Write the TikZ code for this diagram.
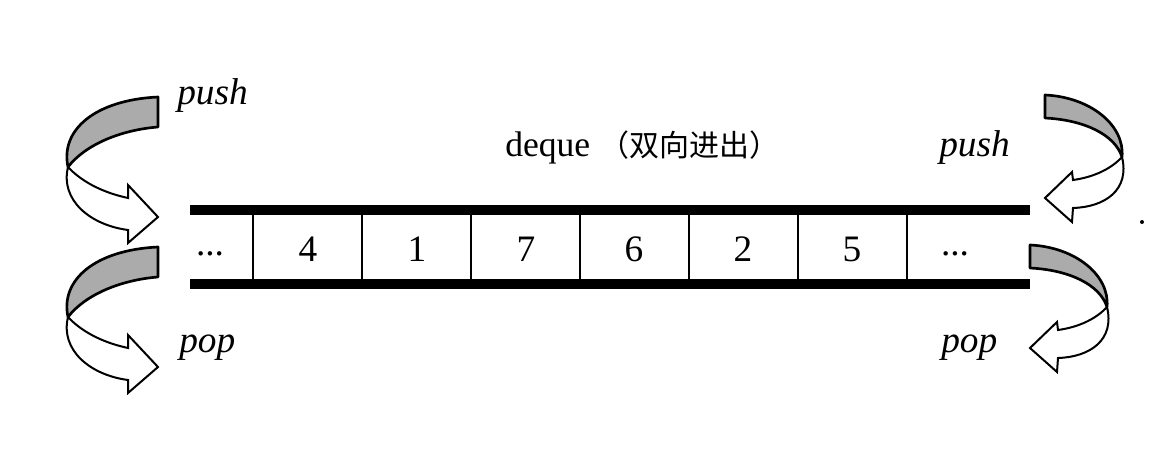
\documentclass[tikz,border=0pt]{standalone}
\usepackage{fontspec}
\setmainfont{Liberation Serif}
\newfontfamily\cjk{Noto Sans CJK SC}
\begin{document}
\begin{tikzpicture}[x=0.75pt,y=-0.75pt,
  tube/.style={line width=6.8pt},
  divider/.style={line width=1.3pt},
  band/.style={draw,line width=2pt,fill=black!33,line join=round},
  turn/.style={draw,line width=1.5pt,fill=white,line join=miter},
  cell/.style={inner sep=0pt,font=\fontsize{28}{30}\selectfont},
  op/.style={inner sep=0pt,anchor=base west,font=\fontsize{28}{30}\selectfont\itshape}]
\useasboundingbox (0,0) rectangle (1164,456);
% tube
\draw[tube] (190,210) -- (1030,210);
\draw[tube] (190,284) -- (1030,284);
\foreach \xd in {253,362,471,580,689,798,907}
  \draw[divider] (\xd,213) -- (\xd,281);
% cells
\node[cell,anchor=base] (c0) at (210,256) {...};
\node[cell] (c1) at (308,249) {4};
\node[cell] (c2) at (417,249) {1};
\node[cell] (c3) at (526,249) {7};
\node[cell] (c4) at (634,249) {6};
\node[cell] (c5) at (743,249) {2};
\node[cell] (c6) at (852,249) {5};
\node[cell,anchor=base] (c7) at (955,256) {...};
% title
\node[inner sep=0pt,anchor=base west,font=\fontsize{26.7}{28}\selectfont] (title) at (505,157)
  {deque\ {\cjk\fontsize{22.5}{24}\selectfont （双向进出）}};
% labels
\node[op] (pushL) at (177,105) {push};
\node[op] (popL) at (179,352) {pop};
\node[op] (pushR) at (939,157) {push};
\node[op] (popR) at (941,352) {pop};
% left U-turn arrows
\foreach \dy in {0,150} {
  \begin{scope}[shift={(0,\dy)}]
    \path[band] (158,97) -- (158,127)
      .. controls (120,130) and (85,145) .. (68,167)
      .. controls (60,130) and (95,100) .. (158,97) -- cycle;
    \path[turn] (68,167) .. controls (60,200) and (90,225) .. (128,230)
      -- (128,243) -- (158,217) -- (128,185) -- (128,198)
      .. controls (100,192) and (80,180) .. (68,167) -- cycle;
  \end{scope}
}
% right U-turn arrows
\foreach \dx/\dy in {0/0,-15/150} {
  \begin{scope}[shift={(\dx,\dy)}]
    \path[band] (1045,95)
      .. controls (1090,97) and (1125,125) .. (1122,157)
      .. controls (1115,135) and (1085,120) .. (1045,118) -- cycle;
    \path[turn] (1122,157) .. controls (1130,190) and (1105,207) .. (1073,208)
      -- (1072,222) -- (1045,198) -- (1072,172) -- (1073,180)
      .. controls (1095,177) and (1112,168) .. (1122,157) -- cycle;
  \end{scope}
}
% stray speck
\fill (1142,222) circle (2);
\end{tikzpicture}
\end{document}
